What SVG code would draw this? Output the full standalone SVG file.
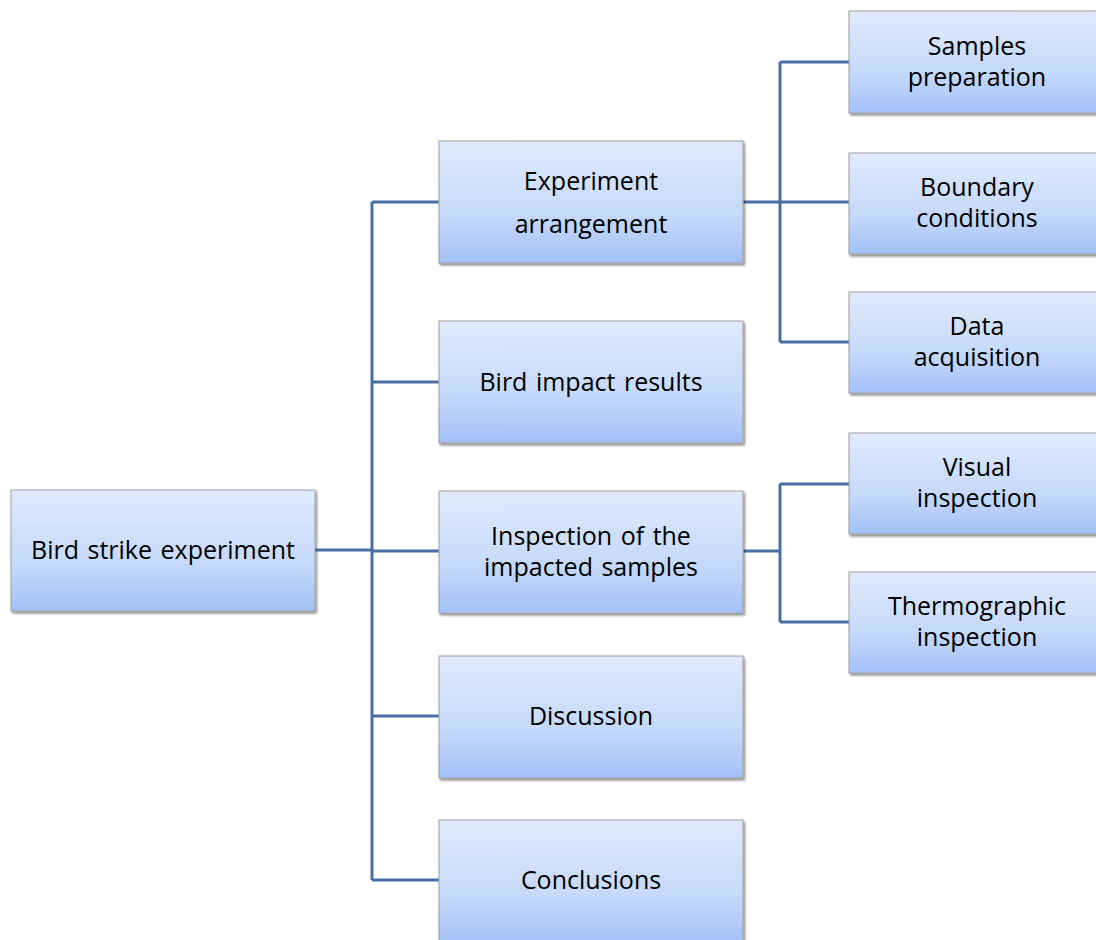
<svg xmlns="http://www.w3.org/2000/svg" width="1096" height="940" viewBox="0 0 1096 940">
  <defs>
    <linearGradient id="boxFill" x1="0" y1="0" x2="0" y2="1">
      <stop offset="0" stop-color="#e0eafc"/>
      <stop offset="0.6" stop-color="#c6d9fa"/>
      <stop offset="1" stop-color="#a3c1f7"/>
    </linearGradient>
    <filter id="shadow" x="-5%" y="-5%" width="115%" height="120%">
      <feDropShadow dx="1.5" dy="2" stdDeviation="1.2" flood-color="#000" flood-opacity="0.45"/>
    </filter>
  </defs>
  <style>
    .box { fill: url(#boxFill); stroke: #a0a0a0; stroke-width: 1; filter: url(#shadow); }
    .label { font-family: "Open Sans", "Noto Sans", sans-serif; font-size: 25px; word-spacing: 2px; fill: #000; text-anchor: middle; }
    .conn { fill: none; stroke: #4a6fa5; stroke-width: 3; }
  </style>
  <rect width="1096" height="940" fill="#fff"/>

  <g id="connectors">
    <path class="conn" d="M315 550 H372"/>
    <path class="conn" d="M372 202 V880"/>
    <path class="conn" d="M372 202 H439 M372 382 H439 M372 551 H439 M372 716 H439 M372 880 H439"/>
    <path class="conn" d="M743 202 H780 M780 62 V342 M780 62 H849 M780 202 H849 M780 342 H849"/>
    <path class="conn" d="M743 551 H780 M780 484 V622 M780 484 H849 M780 622 H849"/>
  </g>

  <g id="root">
    <rect class="box" x="11" y="490" width="304" height="121"/>
    <text class="label" x="163" y="559">Bird strike experiment</text>
  </g>

  <g id="experiment-arrangement">
    <rect class="box" x="439" y="141" width="304" height="122"/>
    <text class="label" x="591" y="190">Experiment</text>
    <text class="label" x="591" y="233">arrangement</text>
  </g>
  <g id="bird-impact-results">
    <rect class="box" x="439" y="321" width="304" height="122"/>
    <text class="label" x="591" y="391">Bird impact results</text>
  </g>
  <g id="inspection">
    <rect class="box" x="439" y="491" width="304" height="122"/>
    <text class="label" x="591" y="545">Inspection of the</text>
    <text class="label" x="591" y="576">impacted samples</text>
  </g>
  <g id="discussion">
    <rect class="box" x="439" y="656" width="304" height="122"/>
    <text class="label" x="591" y="725">Discussion</text>
  </g>
  <g id="conclusions">
    <rect class="box" x="439" y="820" width="304" height="124"/>
    <text class="label" x="591" y="889">Conclusions</text>
  </g>

  <g id="samples-preparation">
    <rect class="box" x="849" y="11" width="256" height="102"/>
    <text class="label" x="977" y="55">Samples</text>
    <text class="label" x="977" y="86">preparation</text>
  </g>
  <g id="boundary-conditions">
    <rect class="box" x="849" y="153" width="256" height="101"/>
    <text class="label" x="977" y="196">Boundary</text>
    <text class="label" x="977" y="227">conditions</text>
  </g>
  <g id="data-acquisition">
    <rect class="box" x="849" y="292" width="256" height="101"/>
    <text class="label" x="977" y="335">Data</text>
    <text class="label" x="977" y="366">acquisition</text>
  </g>
  <g id="visual-inspection">
    <rect class="box" x="849" y="433" width="256" height="101"/>
    <text class="label" x="977" y="476">Visual</text>
    <text class="label" x="977" y="507">inspection</text>
  </g>
  <g id="thermographic-inspection">
    <rect class="box" x="849" y="572" width="256" height="101"/>
    <text class="label" x="977" y="615">Thermographic</text>
    <text class="label" x="977" y="646">inspection</text>
  </g>
</svg>
